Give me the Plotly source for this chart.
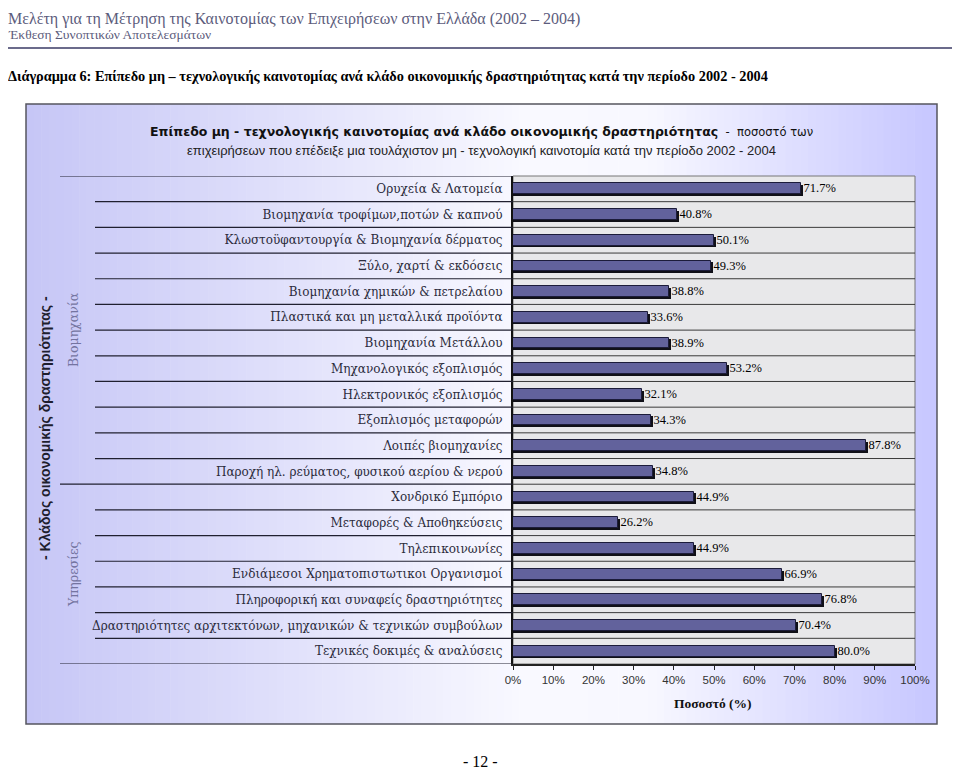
import plotly.graph_objects as go

# ---------------- data ----------------
categories = [
    "Ορυχεία & Λατομεία",
    "Βιομηχανία τροφίμων,ποτών & καπνού",
    "Κλωστοϋφαντουργία & Βιομηχανία δέρματος",
    "Ξύλο, χαρτί & εκδόσεις",
    "Βιομηχανία χημικών & πετρελαίου",
    "Πλαστικά και μη μεταλλικά προϊόντα",
    "Βιομηχανία Μετάλλου",
    "Μηχανολογικός εξοπλισμός",
    "Ηλεκτρονικός εξοπλισμός",
    "Εξοπλισμός μεταφορών",
    "Λοιπές βιομηχανίες",
    "Παροχή ηλ. ρεύματος, φυσικού αερίου & νερού",
    "Χονδρικό Εμπόριο",
    "Μεταφορές & Αποθηκεύσεις",
    "Τηλεπικοινωνίες",
    "Ενδιάμεσοι Χρηματοπιστωτικοι Οργανισμοί",
    "Πληροφορική και συναφείς δραστηριότητες",
    "Δραστηριότητες αρχιτεκτόνων, μηχανικών & τεχνικών συμβούλων",
    "Τεχνικές δοκιμές & αναλύσεις",
]
values = [71.7, 40.8, 50.1, 49.3, 38.8, 33.6, 38.9, 53.2, 32.1, 34.3, 87.8,
          34.8, 44.9, 26.2, 44.9, 66.9, 76.8, 70.4, 80.0]
group_names = ["Βιομηχανία", "Υπηρεσίες"]
group_sizes = [12, 7]
x_ticks = [0, 10, 20, 30, 40, 50, 60, 70, 80, 90, 100]
x_ticklabels = [f"{t}%" for t in x_ticks]

# ---------------- layout geometry (window pixels) ----------------
OFF = 8                     # browser body margin
WIN_W, WIN_H = 960, 770
W, H = WIN_W - OFF, WIN_H - OFF
PL, PR, PT, PB = 513, 915, 176, 664   # plot area in window pixels


def px(p):
    return (p - PL) / (PR - PL)


def py(p):
    return (PB - p) / (PB - PT)


n = len(categories)
fig = go.Figure()

# shadow bars
fig.add_trace(go.Bar(
    y=categories, x=[v + 0.5 for v in values], orientation="h",
    width=0.42, offset=-0.14,
    marker=dict(color="#101018", line=dict(width=0)),
    hoverinfo="skip", showlegend=False,
))
# main bars
fig.add_trace(go.Bar(
    y=categories, x=values, orientation="h",
    width=0.42, offset=-0.21,
    marker=dict(color="#62629c", line=dict(color="#1c1c3a", width=1)),
    text=values, texttemplate="%{x:.1f}%", textposition="outside",
    constraintext="none",
    textfont=dict(family="Liberation Serif", size=12.5, color="#000000"),
    cliponaxis=False, hoverinfo="skip", showlegend=False,
))

shapes = []
# chart box gradient background (vertical strips)
BX0, BX1, BY0, BY1 = 26, 937, 104, 724
stops = [(0.0, (198, 198, 246)), (0.55, (249, 249, 255)),
         (0.68, (248, 248, 255)), (1.0, (198, 198, 255))]


def col_at(t):
    for (t0, c0), (t1, c1) in zip(stops[:-1], stops[1:]):
        if t0 <= t <= t1:
            f = (t - t0) / (t1 - t0) if t1 > t0 else 0
            return "rgb(%d,%d,%d)" % tuple(round(a + (b - a) * f) for a, b in zip(c0, c1))
    return "rgb(%d,%d,%d)" % stops[-1][1]


nstrips = 120
sw = (BX1 - BX0) / nstrips
for i in range(nstrips):
    x0 = BX0 + i * sw
    shapes.append(dict(type="rect", xref="paper", yref="paper", layer="below",
                       x0=px(x0), x1=px(min(x0 + sw + 0.6, BX1)), y0=py(BY1), y1=py(BY0),
                       fillcolor=col_at((i + 0.5) / nstrips), line=dict(width=0)))
# box border
shapes.append(dict(type="rect", xref="paper", yref="paper", layer="below",
                   x0=px(BX0), x1=px(BX1), y0=py(BY1), y1=py(BY0),
                   fillcolor="rgba(0,0,0,0)", line=dict(color="#55555f", width=1.5)))
# plot area (marble approximation)
shapes.append(dict(type="rect", xref="x domain", yref="y domain", layer="below",
                   x0=0, x1=1, y0=0, y1=1, fillcolor="#e8e8ea",
                   line=dict(color="#777777", width=1)))

# row separators
group_bounds = set()
acc = 0
for s in group_sizes:
    acc += s
    group_bounds.add(acc)
for k in range(n + 1):
    yv = k - 0.5
    start = 60 if (k == 0 or k in group_bounds) else 95
    shapes.append(dict(type="line", xref="paper", yref="y", x0=px(start), x1=0,
                       y0=yv, y1=yv, line=dict(color="#202030", width=1.2)))
    if 0 < k < n:
        shapes.append(dict(type="line", xref="paper", yref="y", x0=0, x1=1,
                           y0=yv, y1=yv, line=dict(color="#3a3a3a", width=1)))

# page header line
shapes.append(dict(type="line", xref="paper", yref="paper", x0=px(8), x1=px(960),
                   y0=py(48), y1=py(48), line=dict(color="#6b6b8b", width=2)))

annotations = []


def ann(text, x, y, size, family, color, xanchor="left", angle=0, yanchor="middle"):
    annotations.append(dict(text=text, x=px(x), y=py(y), xref="paper", yref="paper",
                            showarrow=False, xanchor=xanchor, yanchor=yanchor,
                            textangle=angle,
                            font=dict(size=size, family=family, color=color)))


# page texts
ann("Μελέτη για τη Μέτρηση της Καινοτομίας των Επιχειρήσεων στην Ελλάδα (2002 – 2004)",
    6, 8, 16, "Liberation Serif", "#5c5c7c", yanchor="top")
ann("Έκθεση Συνοπτικών Αποτελεσμάτων", 6, 34, 13.5, "Liberation Serif", "#5c5c7c")
ann("<b>Διάγραμμα 6: Επίπεδο μη – τεχνολογικής καινοτομίας ανά κλάδο οικονομικής "
    "δραστηριότητας κατά την περίοδο 2002 - 2004</b>",
    6, 76, 14.3, "Liberation Serif", "#000000")
ann("- 12 -", 480, 761, 16, "Liberation Serif", "#000000", xanchor="center")

# chart titles
ann("<b>Επίπεδο μη - τεχνολογικής καινοτομίας ανά κλάδο οικονομικής δραστηριότητας</b>"
    "<span style='font-size:11.5px'>  -  ποσοστό των</span>",
    481, 131, 12.5, "DejaVu Sans", "#111111", xanchor="center")
ann("επιχειρήσεων που επέδειξε μια τουλάχιστον μη - τεχνολογική καινοτομία κατά την περίοδο 2002 - 2004",
    481, 150, 13, "Liberation Sans", "#222222", xanchor="center")

# axis titles
ann("<b>Ποσοστό (%)</b>", 713, 703, 13.5, "Liberation Serif", "#111111", xanchor="center")
ann("<b>- Κλάδος οικονομικής δραστηριότητας -</b>", 45, 428, 14, "Liberation Sans",
    "#1e1e2e", xanchor="center", angle=-90)

# group labels
acc = 0
for name, s in zip(group_names, group_sizes):
    y_top = PT + acc * (PB - PT) / n
    y_bot = PT + (acc + s) * (PB - PT) / n
    ann(name, 73, (y_top + y_bot) / 2, 12.5, "DejaVu Serif", "#7474a0",
        xanchor="center", angle=-90)
    acc += s

fig.update_layout(
    width=W, height=H,
    margin=dict(l=PL - OFF, r=WIN_W - PR, t=PT - OFF, b=WIN_H - PB, pad=0),
    paper_bgcolor="white", plot_bgcolor="rgba(0,0,0,0)",
    barmode="overlay", bargap=0,
    shapes=shapes, annotations=annotations,
    xaxis=dict(range=[0, 100], tickvals=x_ticks, ticktext=x_ticklabels,
               ticks="outside", ticklen=4, tickcolor="#222222",
               showgrid=False, zeroline=False,
               showline=True, linecolor="#222222", linewidth=1.5,
               tickfont=dict(family="Liberation Sans", size=11.5, color="#333333")),
    yaxis=dict(type="category", categoryorder="array", categoryarray=categories,
               range=[n - 0.5, -0.5], showgrid=False, zeroline=False,
               showline=True, linecolor="#111111", linewidth=2,
               ticks="outside", ticklen=6, tickcolor="rgba(0,0,0,0)",
               tickfont=dict(family="DejaVu Serif", size=12, color="#2c2c3c")),
)

fig.write_html("out.html")
